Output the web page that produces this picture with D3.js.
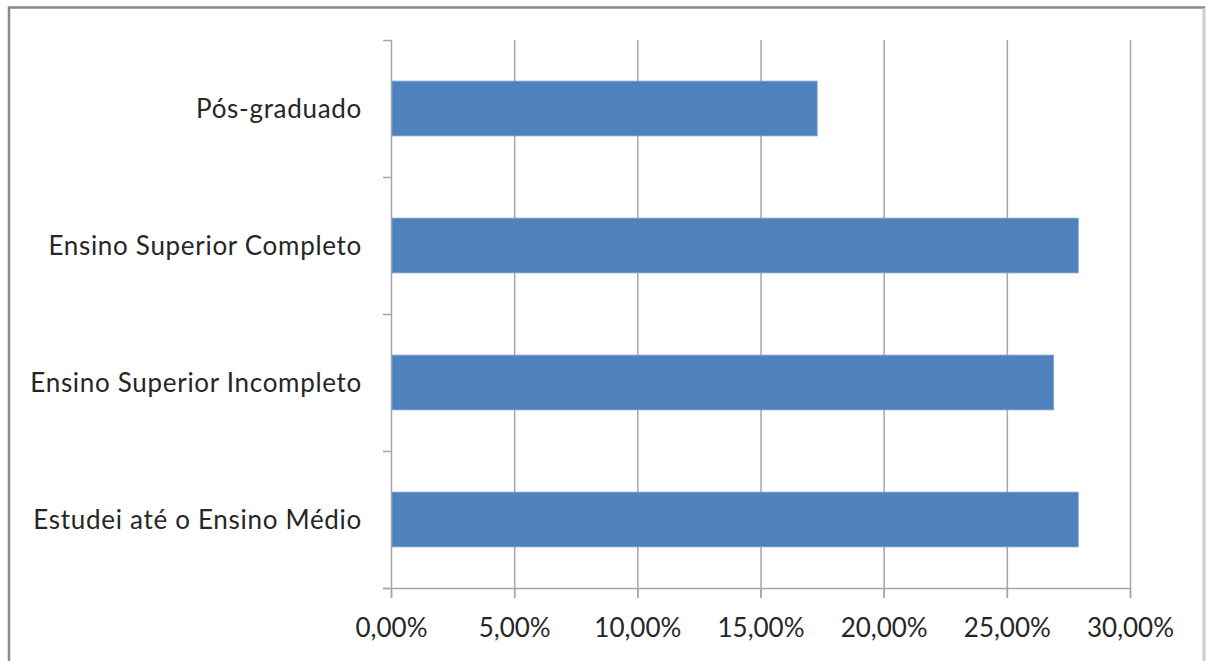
<!DOCTYPE html>
<html><head><meta charset="utf-8">
<script src="https://cdn.jsdelivr.net/npm/d3@7"></script>
<style>body{margin:0;background:#fff}svg{display:block}</style>
</head><body>
<script>
const categories = ["Pós-graduado","Ensino Superior Completo","Ensino Superior Incompleto","Estudei até o Ensino Médio"];
const values = [17.3, 27.9, 26.9, 27.9];
const tickValues = [0,5,10,15,20,25,30];
const tickLabels = ["0,00%","5,00%","10,00%","15,00%","20,00%","25,00%","30,00%"];

(function(){
const W=1206,H=661;
const svg=d3.select("body").append("svg").attr("width",W).attr("height",H);
svg.append("rect").attr("x",0).attr("y",0).attr("width",W).attr("height",H).attr("fill","#fff");
// frame
svg.append("rect").attr("x",9).attr("y",7.5).attr("width",1195).attr("height",700)
  .attr("fill","none").attr("stroke","#8a8a8a").attr("stroke-width",2.5);
svg.append("line").attr("x1",1204).attr("x2",1204).attr("y1",8).attr("y2",H).attr("stroke","#e6e6e6").attr("stroke-width",1.5);

const pL=391,pR=1130,pT=40,pB=588;
const x=d3.scaleLinear().domain([0,30]).range([pL,pR]);
const y=d3.scaleBand().domain(categories).range([pT,pB]).paddingInner(0.6).paddingOuter(0.3);
const yb=d3.scaleBand().domain(categories).range([pT,pB]);

const font="Lato, 'Open Sans', sans-serif";
const fs=26;
// gridlines
svg.append("g").selectAll("line").data(tickValues.slice(1)).join("line")
  .attr("x1",d=>x(d)+0.5).attr("x2",d=>x(d)+0.5).attr("y1",pT).attr("y2",pB+10)
  .attr("stroke","#a6a6a6").attr("stroke-width",1.5);
// x axis
const xAxis=d3.axisBottom(x).tickValues(tickValues).tickFormat((d,i)=>tickLabels[i]).tickSize(10).tickSizeOuter(0);
const gx=svg.append("g").attr("transform",`translate(0,${pB})`).call(xAxis);
gx.select(".domain").attr("stroke","#a6a6a6").attr("stroke-width",1.5).attr("d",`M${pL-8},0.5H${pR}`);
gx.selectAll(".tick line").attr("stroke","#a6a6a6").attr("stroke-width",1.5);
gx.selectAll(".tick text").attr("font-family",font).attr("font-size",fs).attr("fill","#262626").attr("y",31).attr("dy","0.71em");
// y axis
svg.append("line").attr("x1",pL+0.5).attr("x2",pL+0.5).attr("y1",pT).attr("y2",pB+10).attr("stroke","#a6a6a6").attr("stroke-width",1.5);
const bounds=categories.map(c=>yb(c)).concat([pB]);
svg.append("g").selectAll("line").data(bounds).join("line")
  .attr("x1",pL-8).attr("x2",pL).attr("y1",d=>d+0.5).attr("y2",d=>d+0.5)
  .attr("stroke","#a6a6a6").attr("stroke-width",1.5);
// bars
svg.append("g").selectAll("rect").data(values).join("rect")
  .attr("x",pL+1).attr("y",(d,i)=>y(categories[i])).attr("height",y.bandwidth())
  .attr("width",d=>x(d)-pL-1).attr("fill","#4f81bd").attr("stroke","#7ea3d0").attr("stroke-width",0.8);
// labels
svg.append("g").selectAll("text").data(categories).join("text")
  .attr("x",362).attr("y",d=>yb(d)+yb.bandwidth()/2).attr("dy","0.35em")
  .attr("text-anchor","end").attr("font-family",font).attr("font-size",fs).attr("letter-spacing",0.7)
  .attr("fill","#262626").text(d=>d);
})();
</script>
</body></html>
